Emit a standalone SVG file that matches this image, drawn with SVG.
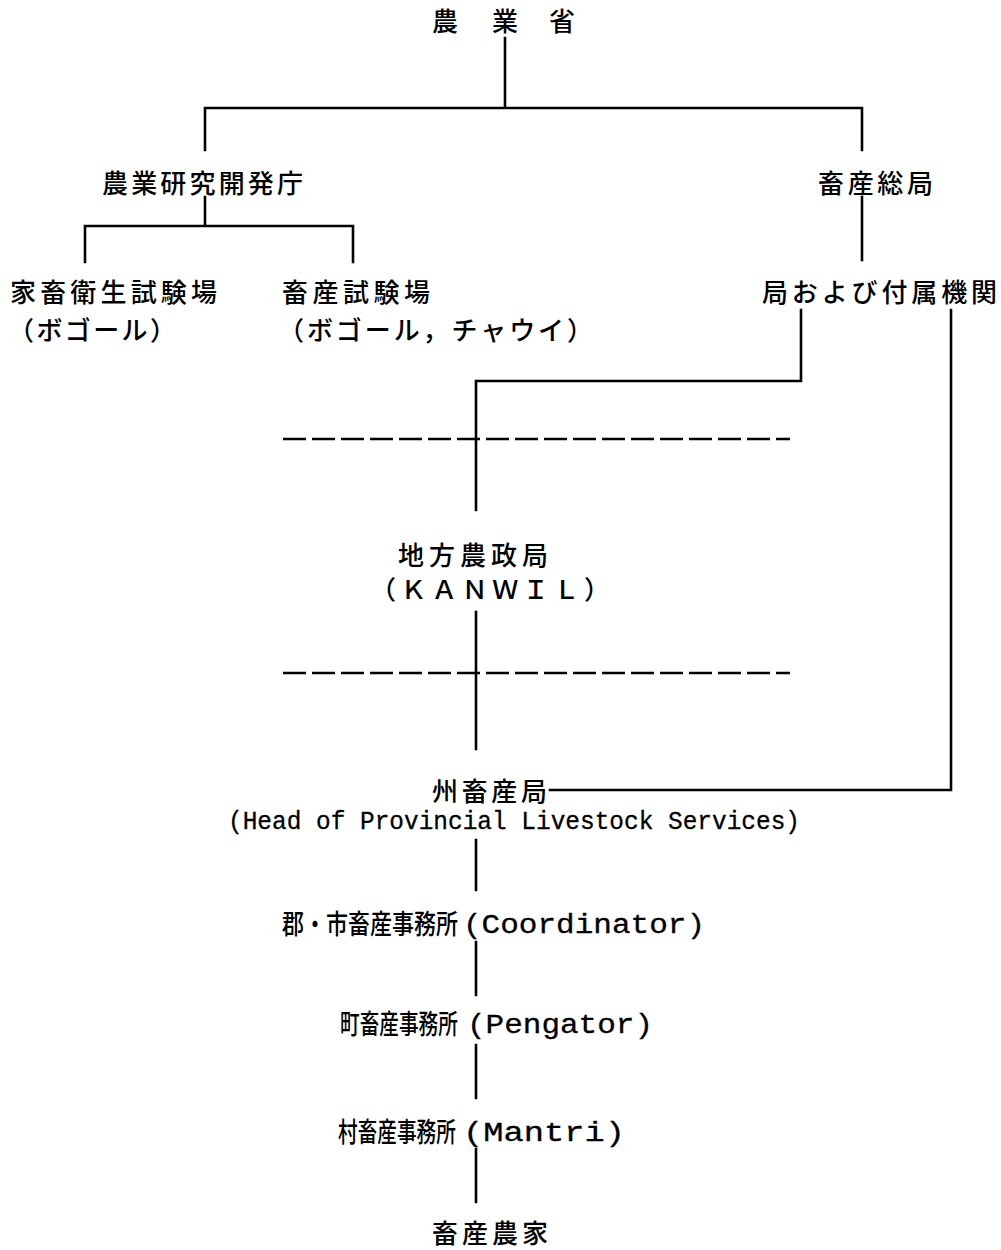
<svg xmlns="http://www.w3.org/2000/svg" width="1001" height="1250" viewBox="0 0 1001 1250">
<style>
.cjk{font-family:"Noto Sans CJK JP","Noto Sans CJK SC",sans-serif;font-size:26px;font-weight:500;fill:#000}
.cnd{font-size:27px}
.mono{font-family:"Liberation Mono","DejaVu Sans Mono",monospace;font-size:27px;fill:#000;stroke:#000;stroke-width:0.3}
.ln{stroke:#000;stroke-width:2.6;fill:none;stroke-linecap:square}
.dash{stroke:#000;stroke-width:2.6;fill:none;stroke-dasharray:23 6}
</style>
<rect width="1001" height="1250" fill="#fff"/>
<g id="connectors">
<path class="ln" d="M505 38V108M205 108H862M205 108V150M862 108V150"/>
<path class="ln" d="M205 197V226M85 226H353M85 226V262M353 226V262"/>
<path class="ln" d="M862 197V260"/>
<path class="ln" d="M801 310V381H476V510"/>
<path class="ln" d="M951 310V790H550"/>
<path class="ln" d="M476 612V749"/>
<path class="ln" d="M476 840V890M476 942V995M476 1045V1098M476 1149V1202"/>
<path class="dash" d="M283 439H790M283 673H790"/>
</g>
<g id="n-ministry"><text class="cjk" x="432 492 549" y="31">農業省</text></g>
<g id="n-research"><text class="cjk" x="102" y="193" textLength="201">農業研究開発庁</text></g>
<g id="n-dgls"><text class="cjk" x="818" y="193" textLength="115">畜産総局</text></g>
<g id="n-vet"><text class="cjk" x="10" y="302" textLength="207">家畜衛生試験場</text><text class="cjk" x="8" y="340" textLength="168">（ボゴール）</text></g>
<g id="n-ls"><text class="cjk" x="282" y="302" textLength="148">畜産試験場</text><text class="cjk" x="278" y="340" textLength="315">（ボゴール，チャウイ）</text></g>
<g id="n-bureau"><text class="cjk" x="762" y="302" textLength="235">局および付属機関</text></g>
<g id="n-kanwil"><text class="cjk" x="398" y="565" textLength="150">地方農政局</text><text class="cjk" x="370" y="599" textLength="240">（ＫＡＮＷＩＬ）</text></g>
<g id="n-province"><text class="cjk" x="432" y="801" textLength="115">州畜産局</text><text class="mono" x="228" y="829" textLength="572" lengthAdjust="spacingAndGlyphs" style="font-size:26px">(Head of Provincial Livestock Services)</text></g>
<g id="n-district"><text class="cjk cnd" transform="translate(282 934) scale(0.815 1)">郡・市畜産事務所</text><text class="mono" x="463" y="933" textLength="242" lengthAdjust="spacingAndGlyphs">(Coordinator)</text></g>
<g id="n-subdistrict"><text class="cjk cnd" transform="translate(340 1034) scale(0.728 1)">町畜産事務所</text><text class="mono" x="467" y="1033" textLength="186" lengthAdjust="spacingAndGlyphs">(Pengator)</text></g>
<g id="n-village"><text class="cjk cnd" transform="translate(338 1142) scale(0.728 1)">村畜産事務所</text><text class="mono" x="463" y="1141" textLength="162" lengthAdjust="spacingAndGlyphs">(Mantri)</text></g>
<g id="n-farmer"><text class="cjk" x="432" y="1243" textLength="116">畜産農家</text></g>
</svg>
